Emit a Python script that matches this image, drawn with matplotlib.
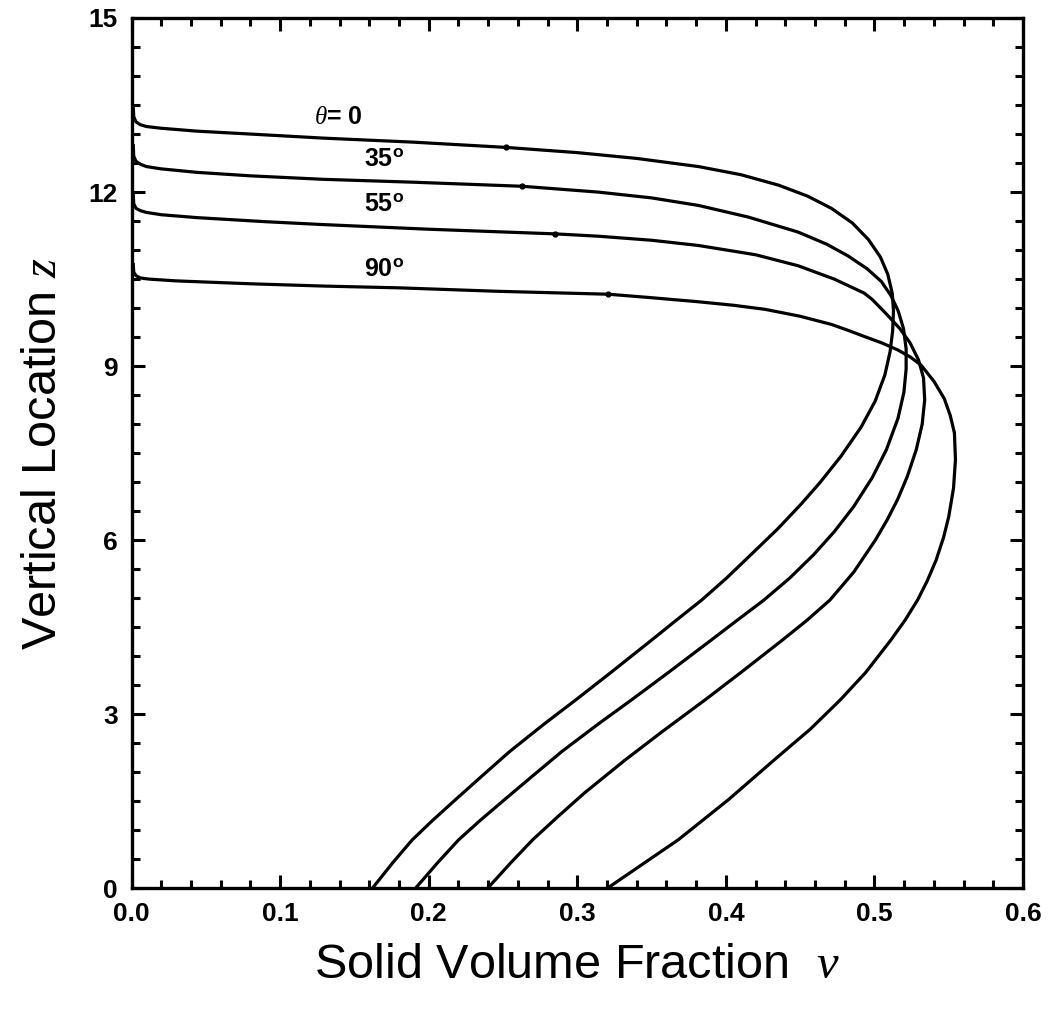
import matplotlib
matplotlib.use('Agg')
import matplotlib.pyplot as plt
from matplotlib.ticker import MultipleLocator

plt.rcParams['font.family'] = ['Liberation Sans', 'DejaVu Sans']
plt.rcParams['mathtext.fontset'] = 'custom'
plt.rcParams['mathtext.rm'] = 'Liberation Sans'
plt.rcParams['mathtext.bf'] = 'Liberation Sans:bold'
plt.rcParams['mathtext.it'] = 'Liberation Serif:italic'

# profiles nu(z) for each inclination angle, listed from the top of the bed down
nu_0 = [0.0012, 0.0015, 0.003, 0.006, 0.01, 0.02, 0.044, 0.08, 0.129, 0.19, 0.252, 0.30,
        0.34, 0.3815, 0.41, 0.4354, 0.455, 0.471, 0.485, 0.496, 0.504, 0.509, 0.512,
        0.5128, 0.5122, 0.5105, 0.507, 0.5005, 0.491, 0.4775, 0.4635, 0.4505, 0.435,
        0.418, 0.4005, 0.3837, 0.3665, 0.350, 0.3225, 0.299, 0.2775, 0.2545, 0.2355,
        0.218, 0.2025, 0.189, 0.176, 0.162]
z_0 = [13.47, 13.30, 13.21, 13.16, 13.13, 13.10, 13.05, 13.00, 12.93, 12.86, 12.77, 12.68,
       12.58, 12.44, 12.30, 12.12, 11.93, 11.72, 11.47, 11.18, 10.88, 10.58, 10.25,
       9.95, 9.60, 9.25, 8.85, 8.40, 7.95, 7.45, 7.00, 6.62, 6.20,
       5.78, 5.35, 4.97, 4.62, 4.28, 3.72, 3.25, 2.83, 2.36, 1.93,
       1.53, 1.17, 0.84, 0.45, 0.0]

nu_35 = [0.0012, 0.0015, 0.003, 0.006, 0.01, 0.02, 0.044, 0.08, 0.129, 0.19, 0.263, 0.314,
         0.35, 0.3815, 0.415, 0.4487, 0.468, 0.4822, 0.495, 0.5046, 0.511, 0.516, 0.5195,
         0.5213, 0.5213, 0.5198, 0.5158, 0.508, 0.4985, 0.486, 0.473, 0.459, 0.443,
         0.4256, 0.4075, 0.3901, 0.3612, 0.3365, 0.3139, 0.2896, 0.2695, 0.251, 0.2345,
         0.2202, 0.2062, 0.191]
z_35 = [12.80, 12.62, 12.53, 12.48, 12.44, 12.40, 12.34, 12.28, 12.22, 12.17, 12.10, 12.00,
        11.90, 11.77, 11.57, 11.31, 11.10, 10.90, 10.68, 10.46, 10.22, 9.95, 9.65,
        9.30, 8.95, 8.55, 8.10, 7.56, 7.08, 6.58, 6.15, 5.75, 5.35,
        4.97, 4.62, 4.28, 3.72, 3.25, 2.83, 2.36, 1.93, 1.53, 1.17,
        0.84, 0.45, 0.0]

nu_55 = [0.0012, 0.0015, 0.003, 0.006, 0.01, 0.02, 0.044, 0.09, 0.129, 0.20, 0.285, 0.314,
         0.35, 0.3815, 0.42, 0.4487, 0.473, 0.493, 0.4985, 0.508, 0.517, 0.524, 0.5296,
         0.533, 0.5338, 0.5321, 0.5281, 0.5221, 0.5155, 0.5085, 0.5005, 0.486, 0.470,
         0.4545, 0.438, 0.410, 0.386, 0.357, 0.332, 0.305, 0.287, 0.270, 0.2555, 0.2395]
z_55 = [11.95, 11.80, 11.72, 11.68, 11.65, 11.61, 11.56, 11.49, 11.44, 11.36, 11.28, 11.24,
        11.17, 11.08, 10.92, 10.73, 10.50, 10.26, 10.15, 9.90, 9.65, 9.40, 9.11,
        8.80, 8.42, 8.00, 7.56, 7.10, 6.70, 6.35, 6.00, 5.45, 4.97,
        4.62, 4.28, 3.72, 3.25, 2.70, 2.21, 1.65, 1.24, 0.84, 0.45, 0.0]

nu_90 = [0.0012, 0.0015, 0.003, 0.006, 0.012, 0.03, 0.08, 0.13, 0.180, 0.247, 0.321, 0.35,
         0.3815, 0.405, 0.4263, 0.450, 0.471, 0.482, 0.4934, 0.505, 0.5157, 0.524, 0.5313,
         0.540, 0.547, 0.551, 0.5538, 0.5545, 0.5532, 0.550, 0.5465, 0.5415, 0.5355,
         0.529, 0.5205, 0.511, 0.494, 0.477, 0.457, 0.435, 0.4017, 0.368, 0.344, 0.320]
z_90 = [10.75, 10.62, 10.56, 10.52, 10.50, 10.47, 10.42, 10.38, 10.35, 10.29, 10.24, 10.18,
        10.11, 10.05, 9.98, 9.86, 9.72, 9.62, 9.51, 9.40, 9.28, 9.16, 9.02,
        8.74, 8.44, 8.15, 7.85, 7.39, 6.90, 6.41, 6.05, 5.66, 5.30,
        4.97, 4.62, 4.28, 3.72, 3.25, 2.75, 2.27, 1.53, 0.84, 0.42, 0.0]

# small symbols sitting on each curve
dot_nu = [0.252, 0.263, 0.285, 0.321]
dot_z = [12.77, 12.10, 11.28, 10.24]

labels = [r'$\theta$= 0', r'35$^\mathbf{o}$', r'55$^\mathbf{o}$', r'90$^\mathbf{o}$']
label_nu = [0.139, 0.170, 0.170, 0.170]
label_z = [13.30, 12.56, 11.78, 10.66]

fig = plt.figure(figsize=(10.52, 10.16), dpi=100)
ax = fig.add_axes([0.125, 0.1255, 0.8475, 0.8568])

for nu, z in [(nu_0, z_0), (nu_35, z_35), (nu_55, z_55), (nu_90, z_90)]:
    ax.plot(nu, z, color='black', lw=2.3, solid_joinstyle='round')
ax.plot(dot_nu, dot_z, 'o', color='black', ms=3.5)

for s, xx, yy in zip(labels, label_nu, label_z):
    ax.text(xx, yy, s, fontsize=18, fontweight='bold', ha='center', va='center')

ax.set_xlim(0, 0.6)
ax.set_ylim(0, 15)
ax.xaxis.set_major_locator(MultipleLocator(0.1))
ax.xaxis.set_minor_locator(MultipleLocator(0.02))
ax.yaxis.set_major_locator(MultipleLocator(3))
ax.yaxis.set_minor_locator(MultipleLocator(0.5))
ax.xaxis.set_major_formatter(plt.FuncFormatter(lambda v, p: '%.1f' % v))

ax.tick_params(which='both', direction='in', top=True, right=True, width=2.2)
ax.tick_params(which='major', length=9.5, labelsize=19, pad=10)
ax.tick_params(which='minor', length=5.5)
for lab in ax.get_xticklabels() + ax.get_yticklabels():
    lab.set_fontweight('bold')
for sp in ax.spines.values():
    sp.set_linewidth(2.4)

ax.set_xlabel(r'Solid Volume Fraction  $\nu$', fontsize=35, labelpad=12)
ax.set_ylabel(r'Vertical Location $z$', fontsize=35, labelpad=16)

fig.savefig('out.png', dpi=100)
